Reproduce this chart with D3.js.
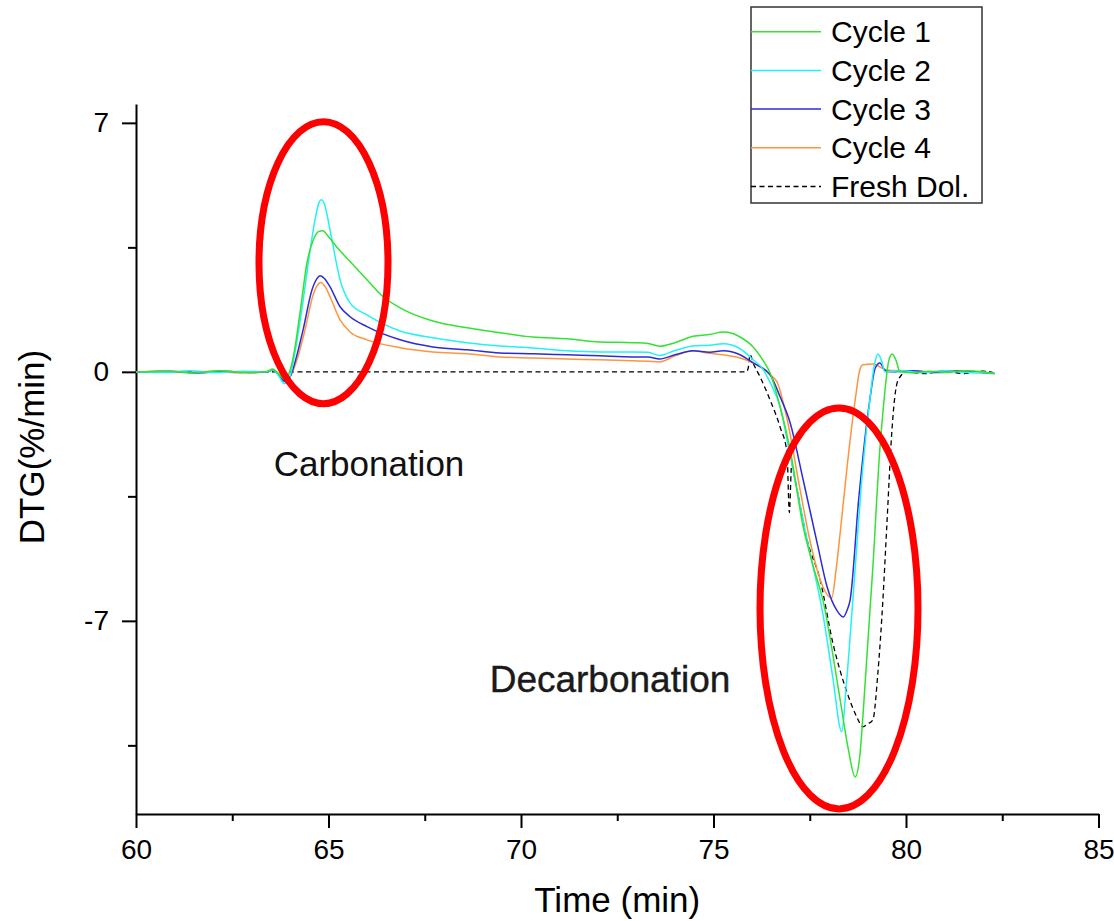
<!DOCTYPE html>
<html>
<head>
<meta charset="utf-8">
<script src="https://cdn.jsdelivr.net/npm/d3@7"></script>
<style>
  body { margin: 0; background: #fff; }
  svg { display: block; font-family: "Liberation Sans", Arial, sans-serif; }
</style>
</head>
<body>
<div class="container"></div>
<script>
const seriesNames = ['Cycle 1', 'Cycle 2', 'Cycle 3', 'Cycle 4', 'Fresh Dol.'];
const seriesColors = ['#33e233', '#22f2f2', '#2b2bdc', '#ff9440', '#000000'];

const xTicks = [60, 65, 70, 75, 80, 85];
const xMinorTicks = [62.5, 67.5, 72.5, 77.5, 82.5];
const yTicks = [-7, 0, 7];
const yMinorTicks = [-10.5, -3.5, 3.5];

// [time (min), DTG (%/min)]
const cycle1 = [
    [60.0, 0], [60.8, 0.02], [61.5, -0.03], [62.2, 0.03], [62.9, -0.02], [63.4, 0.01], [63.55, 0.08],
    [63.7, -0.05], [63.85, -0.2], [63.95, -0.1], [64.1, 0.5], [64.26, 1.66], [64.44, 3.06], [64.62, 3.75],
    [64.75, 3.95], [64.85, 3.97], [65.0, 3.8], [65.22, 3.5], [65.56, 3.1], [66.0, 2.59], [66.42, 2.11],
    [66.86, 1.8], [67.71, 1.43], [68.6, 1.24], [69.45, 1.1], [70.31, 0.98], [71.19, 0.93], [72.05, 0.84],
    [72.9, 0.82], [73.3, 0.8], [73.6, 0.72], [74.0, 0.82], [74.47, 1.0], [74.9, 1.05], [75.25, 1.12],
    [75.5, 1.08], [75.69, 0.98], [76.03, 0.7], [76.3, 0.3], [76.47, -0.03], [76.73, -0.98], [76.99, -2.19],
    [77.33, -4.36], [77.6, -5.5], [77.84, -6.41], [78.29, -9.22], [78.5, -10.6], [78.68, -11.39],
    [78.8, -10.8], [78.88, -9.7], [79.14, -5.48], [79.32, -2.19], [79.43, -0.79], [79.55, 0.3],
    [79.64, 0.5], [79.75, 0.3], [79.84, 0.0], [80.2, -0.03], [80.6, 0.02], [81.0, -0.02], [81.5, 0.03],
    [82.0, 0.0], [82.3, -0.05]
];

const cycle2 = [
    [60.0, 0], [60.7, -0.02], [61.4, 0.03], [62.1, -0.02], [62.8, 0.02], [63.4, 0], [63.55, 0.06],
    [63.7, -0.1], [63.85, -0.33], [63.98, -0.2], [64.12, 0.5], [64.3, 1.7], [64.52, 3.4], [64.65, 4.27],
    [64.75, 4.75], [64.81, 4.84], [64.9, 4.7], [65.04, 3.99], [65.3, 2.59], [65.56, 1.94], [66.0, 1.6],
    [66.86, 1.15], [67.71, 0.96], [68.6, 0.82], [69.45, 0.73], [70.31, 0.67], [71.19, 0.59], [72.05, 0.56],
    [72.9, 0.56], [73.3, 0.55], [73.6, 0.46], [74.0, 0.6], [74.47, 0.73], [74.9, 0.75], [75.25, 0.79],
    [75.69, 0.65], [76.03, 0.34], [76.3, 0.05], [76.47, -0.3], [76.73, -0.98], [77.0, -2.4], [77.43, -4.72],
    [77.84, -6.8], [78.1, -8.6], [78.33, -10.12], [78.45, -8.8], [78.62, -6.41], [78.88, -2.67],
    [79.06, -0.79], [79.18, 0.2], [79.27, 0.5], [79.37, 0.3], [79.45, 0.0], [79.9, 0.03], [80.4, -0.02],
    [81.0, 0.03], [81.6, -0.02], [82.3, -0.03]
];

const cycle3 = [
    [60.0, 0], [60.9, 0.02], [61.6, -0.03], [62.3, 0.02], [63.0, -0.02], [63.4, 0], [63.55, 0.05],
    [63.7, -0.08], [63.88, -0.28], [64.02, -0.1], [64.15, 0.35], [64.34, 1.18], [64.57, 2.3], [64.7, 2.62],
    [64.78, 2.7], [64.9, 2.62], [65.04, 2.39], [65.3, 1.83], [65.56, 1.55], [66.0, 1.27], [66.86, 0.9],
    [67.71, 0.7], [68.6, 0.62], [69.45, 0.53], [70.31, 0.51], [71.19, 0.48], [72.05, 0.45], [72.9, 0.42],
    [73.3, 0.42], [73.6, 0.36], [74.0, 0.48], [74.47, 0.59], [74.9, 0.55], [75.25, 0.59], [75.69, 0.48],
    [76.03, 0.25], [76.47, -0.08], [76.73, -0.7], [76.99, -1.43], [77.33, -3.04], [77.71, -4.9],
    [77.95, -6.04], [78.2, -6.7], [78.37, -6.89], [78.47, -6.7], [78.55, -6.41], [78.77, -3.6],
    [79.06, -0.79], [79.2, 0.1], [79.32, 0.25], [79.45, 0.05], [79.6, 0.0], [80.2, 0.03], [80.8, -0.02],
    [81.4, 0.03], [82.0, -0.02], [82.3, -0.04]
];

const cycle4 = [
    [60.0, 0], [60.6, 0.02], [61.3, -0.02], [62.0, 0.02], [62.7, -0.03], [63.4, 0], [63.55, 0.05],
    [63.7, -0.06], [63.88, -0.22], [64.03, -0.08], [64.17, 0.3], [64.39, 1.18], [64.6, 2.16], [64.72, 2.45],
    [64.8, 2.51], [64.92, 2.38], [65.04, 2.11], [65.3, 1.46], [65.56, 1.12], [66.0, 0.9], [66.86, 0.68],
    [67.71, 0.56], [68.6, 0.51], [69.45, 0.42], [70.31, 0.39], [71.19, 0.36], [72.05, 0.34], [72.9, 0.31],
    [73.3, 0.3], [73.6, 0.28], [74.0, 0.45], [74.47, 0.59], [74.9, 0.52], [75.25, 0.48], [75.69, 0.39],
    [76.03, 0.25], [76.47, -0.08], [76.65, -0.28], [76.9, -1.27], [77.25, -3.32], [77.5, -4.72],
    [77.84, -6.04], [78.07, -6.36], [78.18, -5.6], [78.29, -4.53], [78.47, -2.67], [78.68, -0.79],
    [78.8, 0.05], [78.88, 0.2], [79.14, 0.22], [79.5, 0.05], [80.0, 0.02], [80.6, -0.02], [81.2, 0.03],
    [81.8, -0.02], [82.3, -0.05]
];

const freshDol = [
    [60.0, 0], [75.85, 0], [75.9, 0.1], [75.95, 0.48], [76.05, 0.2], [76.21, -0.14], [76.47, -0.79],
    [76.73, -1.55], [76.91, -2.28], [76.97, -3.96], [77.03, -2.6], [77.12, -3.04], [77.43, -4.72],
    [77.77, -5.85], [78.1, -7.62], [78.47, -9.02], [78.72, -9.7], [78.88, -9.98], [79.0, -9.9],
    [79.14, -9.78], [79.27, -8.46], [79.4, -6.41], [79.5, -4.36], [79.63, -1.72], [79.7, -0.79],
    [79.8, -0.22], [80.02, 0], [80.5, -0.05], [81.0, 0.03], [81.5, -0.05], [82.0, 0.02], [82.3, -0.03]
];

const seriesData = [cycle1, cycle2, cycle3, cycle4, freshDol];

const width = 1114;
const height = 921;

const svg = d3.select('.container')
    .append('svg')
    .attr('width', width)
    .attr('height', height);

const xScale = d3.scaleLinear()
    .domain([60, 85])
    .range([136, 1098.5]);

const yScale = d3.scaleLinear()
    .domain([-12.43, 7.53])
    .range([814, 104]);

const xAxisY = yScale.range()[0];
const yAxisX = xScale.range()[0];

// plain hyphen for negatives, like the original
const tickFmt = d => String(d);

// minor ticks first, major axes on top
svg.append('g')
    .attr('transform', `translate(0, ${xAxisY})`)
    .call(d3.axisBottom(xScale).tickValues(xMinorTicks).tickSize(7).tickSizeOuter(0).tickFormat(''))
    .call(g => g.select('.domain').remove());

svg.append('g')
    .attr('transform', `translate(${yAxisX}, 0)`)
    .call(d3.axisLeft(yScale).tickValues(yMinorTicks).tickSize(8).tickSizeOuter(0).tickFormat(''))
    .call(g => g.select('.domain').remove());

const gXAxis = svg.append('g')
    .attr('class', 'xAxis')
    .attr('transform', `translate(0, ${xAxisY})`)
    .call(d3.axisBottom(xScale).tickValues(xTicks).tickSize(14).tickSizeOuter(0).tickPadding(11).tickFormat(tickFmt));

const gYAxis = svg.append('g')
    .attr('class', 'yAxis')
    .attr('transform', `translate(${yAxisX}, 0)`)
    .call(d3.axisLeft(yScale).tickValues(yTicks).tickSize(14).tickSizeOuter(0).tickPadding(13).tickFormat(tickFmt));

svg.selectAll('.tick line').attr('stroke', '#000').attr('stroke-width', 2);
svg.selectAll('.domain').attr('stroke', '#000').attr('stroke-width', 2);
svg.selectAll('.tick text')
    .attr('fill', '#000')
    .style('font-size', '28px')
    .style('font-family', '"Liberation Sans", Arial, sans-serif');

const lineGenerator = d3.line()
    .x(d => xScale(d[0]))
    .y(d => yScale(d[1]))
    .curve(d3.curveMonotoneX);

// fresh dolomite underneath, cycles in reverse order so cycle 1 ends on top
const drawOrder = [4, 3, 2, 1, 0];
drawOrder.forEach(i => {
    svg.append('path')
        .attr('d', lineGenerator(seriesData[i]))
        .attr('fill', 'none')
        .attr('stroke', seriesColors[i])
        .attr('stroke-width', i === 4 ? 1.3 : 1.5)
        .attr('stroke-dasharray', i === 4 ? '5,3.5' : null);
});

// red highlight ellipses
svg.append('ellipse')
    .attr('cx', xScale(64.87)).attr('cy', yScale(3.07))
    .attr('rx', 64.5).attr('ry', 141)
    .attr('fill', 'none').attr('stroke', '#ff0000').attr('stroke-width', 7);

svg.append('ellipse')
    .attr('cx', xScale(78.26)).attr('cy', yScale(-6.65))
    .attr('rx', 79).attr('ry', 200.5)
    .attr('fill', 'none').attr('stroke', '#ff0000').attr('stroke-width', 7);

svg.append('text')
    .attr('x', 369).attr('y', 476)
    .attr('text-anchor', 'middle')
    .style('font-size', '35px')
    .attr('fill', '#111')
    .text('Carbonation');

svg.append('text')
    .attr('x', 610).attr('y', 692)
    .attr('text-anchor', 'middle')
    .style('font-size', '37px')
    .attr('fill', '#1a1a1a')
    .attr('stroke', '#1a1a1a')
    .attr('stroke-width', 0.4)
    .text('Decarbonation');

// axis titles
svg.append('text')
    .attr('x', (xScale.range()[0] + xScale.range()[1]) / 2)
    .attr('y', 912)
    .attr('text-anchor', 'middle')
    .style('font-size', '35px')
    .attr('fill', '#000')
    .text('Time (min)');

svg.append('text')
    .attr('transform', `translate(44, 447) rotate(-90)`)
    .attr('text-anchor', 'middle')
    .style('font-size', '35px')
    .attr('fill', '#000')
    .text('DTG(%/min)');

// legend
const legend = svg.append('g').attr('class', 'legend');

legend.append('rect')
    .attr('x', 751).attr('y', 7)
    .attr('width', 231).attr('height', 196)
    .attr('fill', '#fff')
    .attr('stroke', '#333')
    .attr('stroke-width', 1.5);

const legendRows = legend.selectAll('.row')
    .data(seriesNames)
    .enter()
    .append('g')
    .attr('class', 'row')
    .attr('transform', (d, i) => `translate(751, ${31.7 + i * 38.7})`);

legendRows.append('line')
    .attr('x1', 0).attr('x2', 70)
    .attr('y1', 0).attr('y2', 0)
    .attr('stroke', (d, i) => seriesColors[i])
    .attr('stroke-width', 1.5)
    .attr('stroke-dasharray', (d, i) => i === 4 ? '5,3.5' : null);

legendRows.append('text')
    .attr('x', 80).attr('y', 10.5)
    .style('font-size', '30px')
    .attr('fill', '#000')
    .text(d => d);
</script>
</body>
</html>
